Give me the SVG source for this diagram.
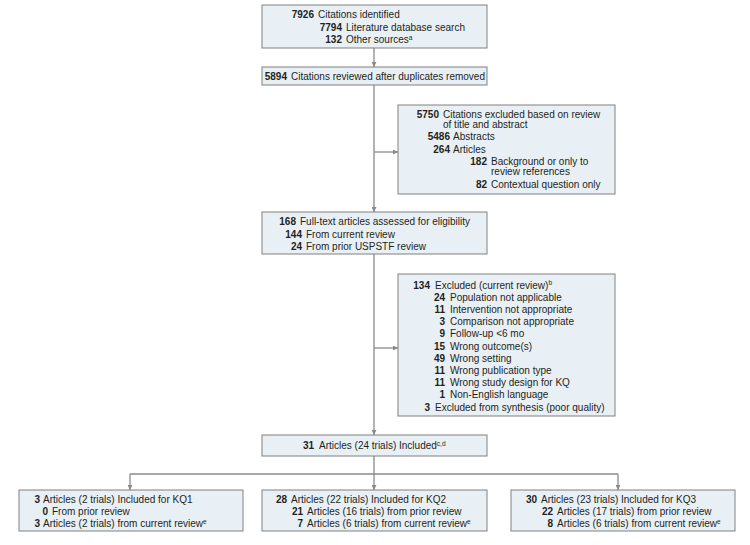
<svg xmlns="http://www.w3.org/2000/svg" width="750" height="545" viewBox="0 0 750 545">
<style>
.box{fill:#e9f0f5;stroke:#808080;stroke-width:1}
text{font-family:"Liberation Sans",Arial,sans-serif;font-size:10px;fill:#231f20}
.n{font-weight:bold;text-anchor:end}
.sup{font-size:6.5px}
.ln{fill:none;stroke:#8a8a8a;stroke-width:1.3}
</style>
<defs>
<marker id="ah" viewBox="0 0 6 6" refX="6" refY="3" markerWidth="5" markerHeight="5" markerUnits="userSpaceOnUse" orient="auto">
<path d="M0,0 L6,3 L0,6 Z" fill="#8a8a8a"/>
</marker>
</defs>
<rect width="750" height="545" fill="#ffffff"/>
<g id="connectors">
<path class="ln" d="M374,48 V67" marker-end="url(#ah)"/>
<path class="ln" d="M374,85 V212" marker-end="url(#ah)"/>
<path class="ln" d="M374,152 H398" marker-end="url(#ah)"/>
<path class="ln" d="M374,254 V435" marker-end="url(#ah)"/>
<path class="ln" d="M374,348 H398" marker-end="url(#ah)"/>
<path class="ln" d="M374,456 V490" marker-end="url(#ah)"/>
<path class="ln" d="M130,474 H618"/>
<path class="ln" d="M130,474 V490" marker-end="url(#ah)"/>
<path class="ln" d="M618,474 V490" marker-end="url(#ah)"/>
</g>
<g id="identified">
<rect class="box" x="262" y="5" width="225" height="43"/>
<text class="n" x="314" y="18">7926</text><text x="318" y="18">Citations identified</text>
<text class="n" x="342" y="30.5">7794</text><text x="346" y="30.5">Literature database search</text>
<text class="n" x="342" y="43">132</text><text x="346" y="43">Other sources<tspan class="sup" dy="-3.5">a</tspan></text>
</g>
<g id="reviewed">
<rect class="box" x="262" y="67" width="225" height="18"/>
<text class="n" x="287" y="80">5894</text><text x="291" y="80">Citations reviewed after duplicates removed</text>
</g>
<g id="excluded1">
<rect class="box" x="398" y="105" width="217" height="89"/>
<text class="n" x="439" y="118">5750</text><text x="443" y="118">Citations excluded based on review</text>
<text x="443" y="128">of title and abstract</text>
<text class="n" x="450" y="140">5486</text><text x="453" y="140">Abstracts</text>
<text class="n" x="450" y="152.5">264</text><text x="453" y="152.5">Articles</text>
<text class="n" x="487" y="165">182</text><text x="491" y="165">Background or only to</text>
<text x="491" y="175">review references</text>
<text class="n" x="487" y="188">82</text><text x="491" y="188">Contextual question only</text>
</g>
<g id="fulltext">
<rect class="box" x="262" y="212" width="225" height="42"/>
<text class="n" x="296" y="225">168</text><text x="300" y="225">Full-text articles assessed for eligibility</text>
<text class="n" x="302" y="237.5">144</text><text x="306" y="237.5">From current review</text>
<text class="n" x="302" y="250">24</text><text x="306" y="250">From prior USPSTF review</text>
</g>
<g id="excluded2">
<rect class="box" x="398" y="274" width="217" height="142"/>
<text class="n" x="430" y="288.5">134</text><text x="435" y="288.5">Excluded (current review)<tspan class="sup" dy="-3.5">b</tspan></text>
<text class="n" x="445" y="300.7">24</text><text x="450" y="300.7">Population not applicable</text>
<text class="n" x="445" y="312.9">11</text><text x="450" y="312.9">Intervention not appropriate</text>
<text class="n" x="445" y="325.1">3</text><text x="450" y="325.1">Comparison not appropriate</text>
<text class="n" x="445" y="337.3">9</text><text x="450" y="337.3">Follow-up &lt;6 mo</text>
<text class="n" x="445" y="349.5">15</text><text x="450" y="349.5">Wrong outcome(s)</text>
<text class="n" x="445" y="361.7">49</text><text x="450" y="361.7">Wrong setting</text>
<text class="n" x="445" y="373.9">11</text><text x="450" y="373.9">Wrong publication type</text>
<text class="n" x="445" y="386.1">11</text><text x="450" y="386.1">Wrong study design for KQ</text>
<text class="n" x="445" y="398.3">1</text><text x="450" y="398.3">Non-English language</text>
<text class="n" x="430" y="410.5">3</text><text x="435" y="410.5">Excluded from synthesis (poor quality)</text>
</g>
<g id="included">
<rect class="box" x="262" y="435" width="225" height="21"/>
<text class="n" x="314" y="449">31</text><text x="319" y="449">Articles (24 trials) Included<tspan class="sup" dy="-3.5">c,d</tspan></text>
</g>
<g id="kq1">
<rect class="box" x="19" y="490" width="224" height="41"/>
<text class="n" x="40" y="503">3</text><text x="43" y="503">Articles (2 trials) Included for KQ1</text>
<text class="n" x="48" y="515">0</text><text x="52" y="515">From prior review</text>
<text class="n" x="40" y="527">3</text><text x="43" y="527">Articles (2 trials) from current review<tspan class="sup" dy="-3.5">e</tspan></text>
</g>
<g id="kq2">
<rect class="box" x="262" y="490" width="225" height="41"/>
<text class="n" x="287" y="503">28</text><text x="291" y="503">Articles (22 trials) Included for KQ2</text>
<text class="n" x="303" y="515">21</text><text x="307" y="515">Articles (16 trials) from prior review</text>
<text class="n" x="303" y="527">7</text><text x="307" y="527">Articles (6 trials) from current review<tspan class="sup" dy="-3.5">e</tspan></text>
</g>
<g id="kq3">
<rect class="box" x="511" y="490" width="224" height="41"/>
<text class="n" x="537" y="503">30</text><text x="541" y="503">Articles (23 trials) Included for KQ3</text>
<text class="n" x="553" y="515">22</text><text x="557" y="515">Articles (17 trials) from prior review</text>
<text class="n" x="553" y="527">8</text><text x="557" y="527">Articles (6 trials) from current review<tspan class="sup" dy="-3.5">e</tspan></text>
</g>
</svg>
